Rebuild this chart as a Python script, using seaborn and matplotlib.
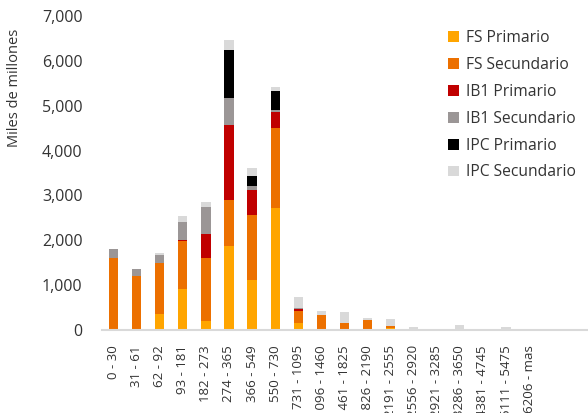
import numpy as np
import pandas as pd
import matplotlib
matplotlib.use("Agg")
import matplotlib.pyplot as plt
from matplotlib.patches import Patch
import seaborn as sns

sns.set_style("white")
plt.rcParams["font.family"] = ["Open Sans", "DejaVu Sans"]

# buckets (dias)
buckets = ["0 - 30", "31 - 61", "62 - 92", "93 - 181", "182 - 273", "274 - 365",
           "366 - 549", "550 - 730", "731 - 1095", "1096 - 1460", "1461 - 1825",
           "1826 - 2190", "2191 - 2555", "2556 - 2920", "2921 - 3285", "3286 - 3650",
           "4381 - 4745", "5111 - 5475", "6206 - mas"]

# miles de millones
fs_primario    = [0, 0, 355, 910, 200, 1870, 1110, 2710, 160, 0, 0, 0, 50, 0, 10, 0, 0, 0, 0]
fs_secundario  = [1610, 1210, 1135, 1070, 1410, 1040, 1460, 1790, 270, 335, 145, 230, 45, 0, 0, 0, 0, 0, 0]
ib1_primario   = [0, 0, 0, 20, 535, 1670, 550, 355, 30, 0, 0, 0, 0, 0, 0, 0, 0, 0, 0]
ib1_secundario = [205, 140, 185, 415, 600, 600, 80, 60, 37, 0, 0, 0, 0, 0, 0, 0, 0, 0, 0]
ipc_primario   = [0, 0, 0, 0, 0, 1075, 230, 415, 0, 0, 0, 0, 0, 0, 0, 0, 0, 0, 0]
ipc_secundario = [0, 10, 40, 125, 100, 220, 190, 90, 236, 85, 265, 37, 148, 60, 12, 110, 0, 67, 22]

series = ["FS Primario", "FS Secundario", "IB1 Primario", "IB1 Secundario",
          "IPC Primario", "IPC Secundario"]
values = [fs_primario, fs_secundario, ib1_primario, ib1_secundario,
          ipc_primario, ipc_secundario]
colors = ["#FFA500", "#EC7000", "#C00000", "#9B9696", "#000000", "#D9D9D9"]

df = pd.DataFrame({"bucket": buckets})
for name, vals in zip(series, values):
    df[name] = vals
# cumulative totals for stacking
cum = df[series].cumsum(axis=1)

fig = plt.figure(figsize=(5.88, 4.13), dpi=100)
ax = fig.add_axes([0.1735, 0.201, 0.8245, 0.76])

# draw from the top of the stack down so each layer covers the one above
for name, color in zip(series[::-1], colors[::-1]):
    sns.barplot(x=df["bucket"], y=cum[name], color=color, width=0.4,
                saturation=1, ax=ax, linewidth=0)

ax.set_ylim(0, 7000)
ax.set_xlim(-0.5, 20.5)
ax.set_yticks(np.arange(0, 7001, 1000))
ax.set_yticklabels([f"{v:,}" for v in range(0, 7001, 1000)])
ax.set_xlabel("")
ax.set_ylabel("Miles de millones", fontsize=10.5, color="#333333")
ax.yaxis.set_label_coords(-0.165, 0.77)
ax.tick_params(axis="y", length=0, pad=14, labelsize=11.5, labelcolor="#333333")
ax.tick_params(axis="x", length=0, pad=11, labelsize=9.5, labelcolor="#333333",
               labelrotation=90)
for lab in ax.get_xticklabels():
    lab.set_verticalalignment("top")

sns.despine(ax=ax, left=True)
ax.spines["bottom"].set_color("#D9D9D9")
ax.spines["bottom"].set_linewidth(1.5)

handles = [Patch(facecolor=c, edgecolor="none", label=s) for s, c in zip(series, colors)]
fig.legend(handles=handles, loc="upper left", bbox_to_anchor=(0.738, 0.962),
           frameon=False, fontsize=11.25, handlelength=0.7, handleheight=0.7,
           handletextpad=0.45, labelspacing=0.7, labelcolor="#333333")

fig.savefig("out.png", dpi=100)
